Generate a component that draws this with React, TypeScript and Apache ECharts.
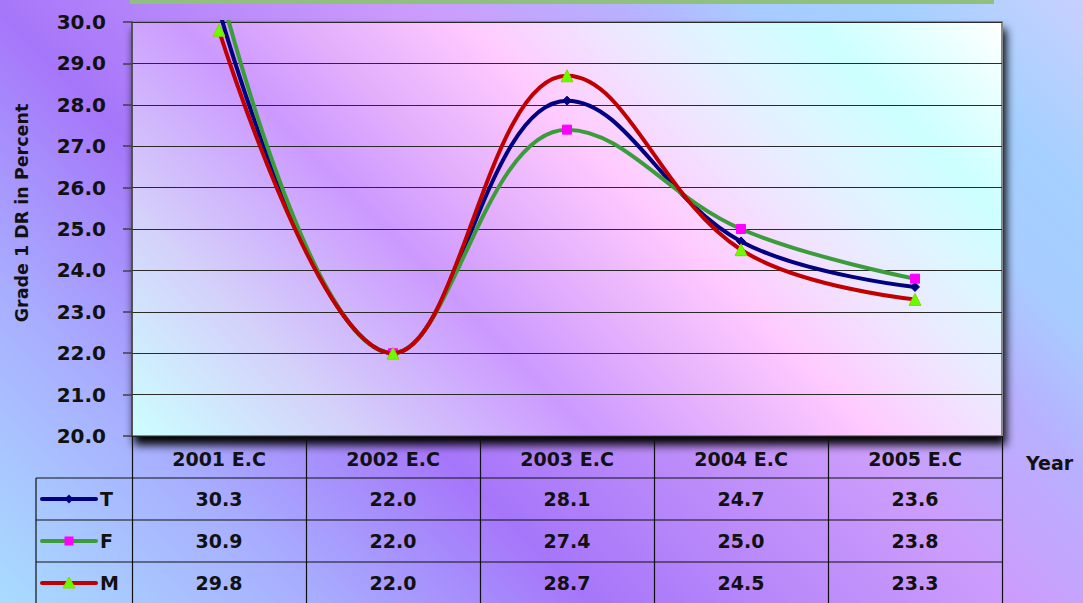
import React, { useEffect, useRef } from "react";
import * as echarts from "echarts";

const categories = ["2001 E.C", "2002 E.C", "2003 E.C", "2004 E.C", "2005 E.C"];
const seriesNames = ["T", "F", "M"];
const tValues = [30.3, 22.0, 28.1, 24.7, 23.6];
const fValues = [30.9, 22.0, 27.4, 25.0, 23.8];
const mValues = [29.8, 22.0, 28.7, 24.5, 23.3];
const yMin = 20;
const yMax = 30;
const yInterval = 1;
const yAxisTitle = "Grade 1 DR in Percent";
const xAxisTitle = "Year";

const FONT = "DejaVu Sans";
const W = 1083;
const H = 603;
const GRID_LEFT = 132;
const GRID_TOP = 22;
const GRID_W = 870;
const GRID_H = 414;

const lineColors = ["#000080", "#3c9c3c", "#c00000"];
const markerStyles = [
  { symbol: "diamond", size: 9, color: "#000080", border: "#000080" },
  { symbol: "rect", size: 9, color: "#ff00ff", border: "#ff00ff" },
  { symbol: "triangle", size: 12, color: "#66ff00", border: "#99cc00" },
];

export default function App() {
  const ref = useRef<HTMLDivElement>(null);
  useEffect(() => {
    if (!ref.current) return;
    const chart = echarts.init(ref.current, undefined, { renderer: "svg" });
    const allValues = [tValues, fValues, mValues];
    const cellW = GRID_W / categories.length;
    const rowTops = [478, 520, 562];
    const rowH = 42;

    const graphics: any[] = [];
    graphics.push({
      type: "rect",
      shape: { x: 130, y: 0, width: 864, height: 4 },
      style: { fill: "#8fc07f" },
      z: 10,
    });
    graphics.push({
      type: "text",
      x: 22,
      y: 213,
      rotation: Math.PI / 2,
      style: {
        text: yAxisTitle,
        font: `bold 17.5px "${FONT}"`,
        fill: "#111",
        align: "center",
        verticalAlign: "middle",
      },
      z: 10,
    });
    graphics.push({
      type: "text",
      x: 1026,
      y: 463,
      style: {
        text: xAxisTitle,
        font: `bold 19px "${FONT}"`,
        fill: "#111",
        align: "left",
        verticalAlign: "middle",
      },
      z: 10,
    });
    rowTops.forEach((y) => {
      graphics.push({
        type: "line",
        shape: { x1: 36, y1: y, x2: GRID_LEFT + GRID_W, y2: y },
        style: { stroke: "#111", lineWidth: 1.2 },
        z: 10,
      });
    });
    graphics.push({
      type: "line",
      shape: { x1: 36, y1: 478, x2: 36, y2: 603 },
      style: { stroke: "#111", lineWidth: 1.2 },
      z: 10,
    });
    allValues.forEach((vals, r) => {
      const cy = rowTops[r] + rowH / 2;
      graphics.push({
        type: "line",
        shape: { x1: 42, y1: cy, x2: 96, y2: cy },
        style: { stroke: lineColors[r], lineWidth: 4, lineCap: "round" },
        z: 10,
      });
      const m = markerStyles[r];
      if (m.symbol === "diamond") {
        graphics.push({
          type: "polygon",
          shape: { points: [[69, cy - 4.5], [73.5, cy], [69, cy + 4.5], [64.5, cy]] },
          style: { fill: m.color },
          z: 11,
        });
      } else if (m.symbol === "rect") {
        graphics.push({
          type: "rect",
          shape: { x: 64.5, y: cy - 4.5, width: 9, height: 9 },
          style: { fill: m.color },
          z: 11,
        });
      } else {
        graphics.push({
          type: "polygon",
          shape: { points: [[69, cy - 6], [75, cy + 5], [63, cy + 5]] },
          style: { fill: m.color, stroke: m.border, lineWidth: 1 },
          z: 11,
        });
      }
      graphics.push({
        type: "text",
        x: 100,
        y: cy,
        style: {
          text: seriesNames[r],
          font: `bold 19px "${FONT}"`,
          fill: "#111",
          align: "left",
          verticalAlign: "middle",
        },
        z: 10,
      });
      vals.forEach((v, i) => {
        graphics.push({
          type: "text",
          x: GRID_LEFT + (i + 0.5) * cellW,
          y: cy,
          style: {
            text: v.toFixed(1),
            font: `bold 19px "${FONT}"`,
            fill: "#111",
            align: "center",
            verticalAlign: "middle",
          },
          z: 10,
        });
      });
    });

    const pageGrad = new echarts.graphic.LinearGradient(
      0, H, H * 1.4, H - H * 1.4,
      [
        { offset: 0, color: "#a8dcff" },
        { offset: 0.18, color: "#a8b0ff" },
        { offset: 0.35, color: "#a676fa" },
        { offset: 0.46, color: "#b888fa" },
        { offset: 0.6, color: "#cc9cfc" },
        { offset: 0.72, color: "#b8b0ff" },
        { offset: 0.8, color: "#a8ccff" },
        { offset: 0.88, color: "#a4d0ff" },
        { offset: 1, color: "#c8d0ff" },
      ],
      true
    );
    const gb = GRID_TOP + GRID_H;
    const span = (GRID_W + GRID_H) / 2;
    const plotGrad = new echarts.graphic.LinearGradient(
      GRID_LEFT, gb, GRID_LEFT + span, gb - span,
      [
        { offset: 0, color: "#ccffff" },
        { offset: 0.18, color: "#d4d0fa" },
        { offset: 0.36, color: "#cc99ff" },
        { offset: 0.48, color: "#e8b4fc" },
        { offset: 0.58, color: "#ffcaff" },
        { offset: 0.68, color: "#f0e4ff" },
        { offset: 0.76, color: "#e0f4ff" },
        { offset: 0.85, color: "#ccffff" },
        { offset: 1, color: "#ffffff" },
      ],
      true
    );

    chart.setOption({
      animation: false,
      backgroundColor: pageGrad,
      grid: {
        left: GRID_LEFT,
        top: GRID_TOP,
        width: GRID_W,
        height: GRID_H,
        show: true,
        backgroundColor: plotGrad,
        borderColor: "#888888",
        borderWidth: 2,
        shadowColor: "rgba(0,0,0,1)",
        shadowBlur: 10,
        shadowOffsetX: 3,
        shadowOffsetY: 8,
      },
      xAxis: {
        type: "category",
        data: categories,
        boundaryGap: true,
        axisLine: { show: true, lineStyle: { color: "#222", width: 1 } },
        axisTick: {
          show: true,
          interval: 0,
          length: 168,
          lineStyle: { color: "#111", width: 1.2 },
        },
        axisLabel: {
          interval: 0,
          margin: 23,
          verticalAlign: "middle",
          fontFamily: FONT,
          fontWeight: "bold",
          fontSize: 19,
          color: "#111",
        },
        splitLine: { show: false },
      },
      yAxis: {
        type: "value",
        min: yMin,
        max: yMax,
        interval: yInterval,
        axisLine: { show: true, lineStyle: { color: "#404040", width: 1.5 } },
        axisTick: { show: true, length: 9, lineStyle: { color: "#404040", width: 1.5 } },
        axisLabel: {
          margin: 26,
          fontFamily: FONT,
          fontWeight: "bold",
          fontSize: 20,
          color: "#111",
          formatter: (v: number) => v.toFixed(1),
        },
        splitLine: { show: true, lineStyle: { color: "#2a2a2a", width: 1.2 } },
      },
      series: allValues.map((vals, i) => ({
        name: seriesNames[i],
        type: "line",
        data: vals,
        smooth: 0.4,
        clip: true,
        symbol: markerStyles[i].symbol,
        symbolSize: markerStyles[i].size,
        showAllSymbol: true,
        lineStyle: { color: lineColors[i], width: 4 },
        itemStyle: {
          color: markerStyles[i].color,
          borderColor: markerStyles[i].border,
          borderWidth: 1,
        },
        z: 3 + i,
      })),
      graphic: graphics,
    });
    return () => chart.dispose();
  }, []);
  return (
    <div
      ref={ref}
      style={{ position: "fixed", left: 0, top: 0, width: W, height: H }}
    />
  );
}
